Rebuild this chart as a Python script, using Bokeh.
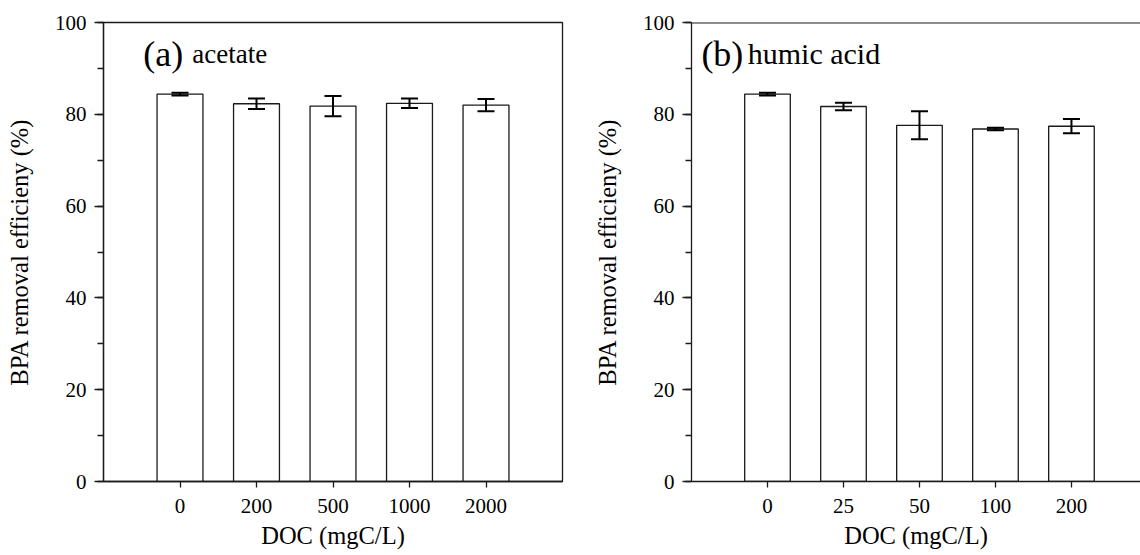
from bokeh.plotting import figure
from bokeh.models import (ColumnDataSource, Whisker, TeeHead, Label, FixedTicker,
                          SingleIntervalTicker, Range1d, Span)
from bokeh.layouts import row
from bokeh.embed import file_html
from bokeh.resources import INLINE

# ---- data ----
doc_a = ["0", "200", "500", "1000", "2000"]
eff_a = [84.4, 82.3, 81.8, 82.4, 82.0]
err_a = [0.3, 1.15, 2.2, 1.05, 1.35]

doc_b = ["0", "25", "50", "100", "200"]
eff_b = [84.4, 81.7, 77.6, 76.8, 77.4]
err_b = [0.3, 0.8, 3.05, 0.25, 1.55]

FONT = "Liberation Serif"
INK = "#1a1a1a"
H = 555
TOP = 22
FRAME = 459


def panel(cats, vals, errs, tag, name, tag_x, name_x, name_size,
          width, border_left, border_right, x_end, outline):
    xs = list(range(1, len(cats) + 1))
    p = figure(width=width, height=H, output_backend="svg", toolbar_location=None,
               x_range=Range1d(0, x_end), y_range=Range1d(0, 100),
               min_border_left=border_left, min_border_top=TOP,
               min_border_bottom=H - TOP - FRAME, min_border_right=border_right)
    p.xgrid.visible = False
    p.ygrid.visible = False
    p.background_fill_color = "white"
    p.border_fill_color = "white"
    if outline:
        p.outline_line_color = INK
        p.outline_line_width = 1.3
        p.outline_line_alpha = 1
    else:
        p.outline_line_color = None
        p.add_layout(Span(location=100, dimension="width", line_color=INK,
                          line_width=2, level="overlay"))

    src = ColumnDataSource(dict(x=xs, top=vals,
                                upper=[v + e for v, e in zip(vals, errs)],
                                lower=[v - e for v, e in zip(vals, errs)]))
    p.vbar(x="x", top="top", width=0.6, source=src, fill_color="white",
           line_color=INK, line_width=1.3)
    w = Whisker(base="x", upper="upper", lower="lower", source=src,
                line_color="black", line_width=2, level="overlay",
                upper_head=TeeHead(size=17, line_width=2, line_color="black"),
                lower_head=TeeHead(size=17, line_width=2, line_color="black"))
    p.add_layout(w)

    # x axis
    xa = p.below[0]
    xa.ticker = FixedTicker(ticks=xs)
    xa.major_label_overrides = {x: c for x, c in zip(xs, cats)}
    xa.major_tick_in = 0
    xa.major_tick_out = 6
    xa.major_label_standoff = 11
    xa.axis_label = "DOC (mgC/L)"
    xa.axis_label_standoff = 6
    # y axis
    ya = p.left[0]
    ya.ticker = SingleIntervalTicker(interval=20, num_minor_ticks=2)
    ya.major_tick_in = 0
    ya.major_tick_out = 9
    ya.minor_tick_in = 0
    ya.minor_tick_out = 6
    ya.major_label_standoff = 8
    ya.axis_label = "BPA removal efficieny (%)"
    ya.axis_label_standoff = 19
    for ax in (xa, ya):
        ax.axis_line_color = INK
        ax.axis_line_width = 1.3
        ax.major_tick_line_color = INK
        ax.major_tick_line_width = 1.3
        ax.minor_tick_line_color = INK if ax is ya else None
        ax.minor_tick_line_width = 1.3
        ax.major_label_text_font = FONT
        ax.major_label_text_font_size = "21px"
        ax.major_label_text_color = "black"
        ax.axis_label_text_font = FONT
        ax.axis_label_text_font_size = "24.5px"
        ax.axis_label_text_font_style = "normal"
        ax.axis_label_text_color = "black"

    p.add_layout(Label(x=tag_x, y=93.2, text=tag, text_font=FONT,
                       text_font_size="36px", text_baseline="alphabetic",
                       text_color="black"))
    p.add_layout(Label(x=name_x, y=93.2, text=name, text_font=FONT,
                       text_font_size=name_size, text_baseline="alphabetic",
                       text_color="black"))
    return p


W1 = 590
pa = panel(doc_a, eff_a, err_a, "(a)", "acetate", 0.52, 1.16, "27px",
           W1, 103, W1 - 103 - FRAME, 6.0, True)
WB = 1140 - W1
LB = 688 - W1
pb = panel(doc_b, eff_b, err_b, "(b)", "humic acid", 0.13, 0.74, "30px",
           WB, LB, 0, (WB - LB) / 76.5, False)

layout = row(pa, pb)
open("out.html", "w").write(file_html(layout, INLINE))
